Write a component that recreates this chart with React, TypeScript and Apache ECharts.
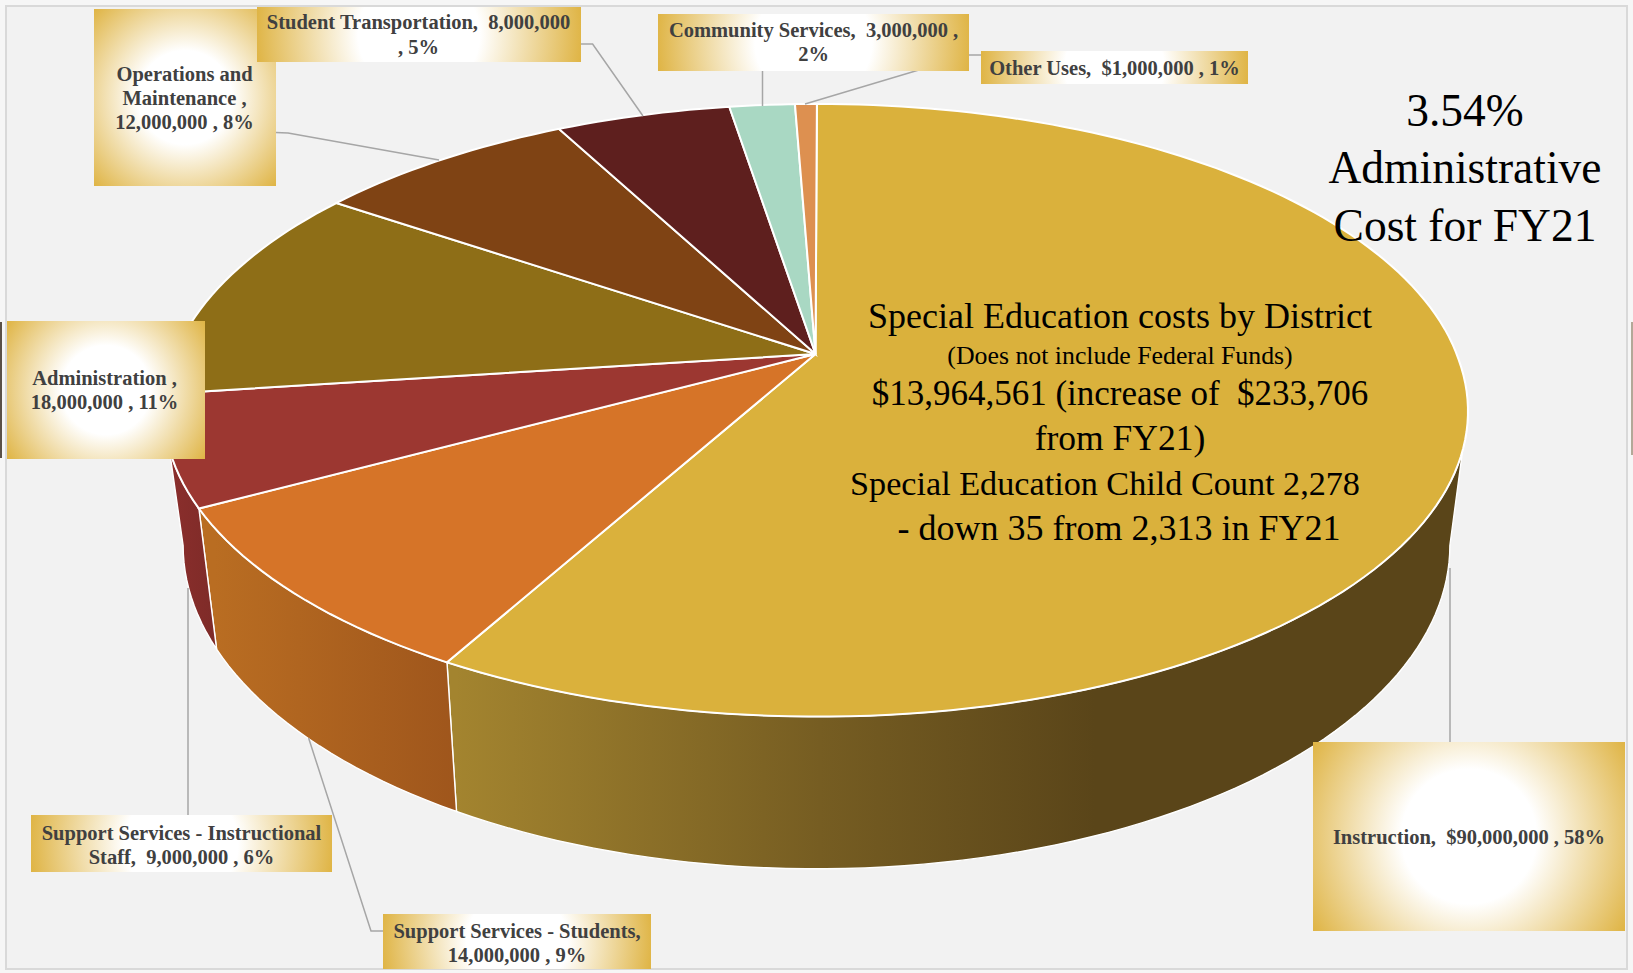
import React, { useEffect, useRef } from "react";
import * as echarts from "echarts";

// Spending by category, clockwise from twelve o'clock.
const categories = [
  "Instruction",
  "Support Services - Students",
  "Support Services - Instructional Staff",
  "Administration",
  "Operations and Maintenance",
  "Student Transportation",
  "Community Services",
  "Other Uses",
];
const amounts = [90000000, 14000000, 9000000, 18000000, 12000000, 8000000, 3000000, 1000000];
const topColors = ["#dab13c", "#d67428", "#9c3731", "#8e6e17", "#7f4314", "#5e1f1e", "#a9d8c3", "#dd9050"];
const wallStops = [
  [["#a3842f", 456], ["#765d22", 820], ["#5a4519", 1095]],
  [["#b96d22", 215], ["#9f561c", 456]],
  [["#8a2e2c", 172], ["#7e2b28", 215]],
];
const labelLines = [
  ["Instruction,  $90,000,000 , 58%"],
  ["Support Services - Students,", "14,000,000 , 9%"],
  ["Support Services - Instructional", "Staff,  9,000,000 , 6%"],
  ["Administration ,", "18,000,000 , 11%"],
  ["Operations and", "Maintenance ,", "12,000,000 , 8%"],
  ["Student Transportation,  8,000,000", ", 5%"],
  ["Community Services,  3,000,000 ,", "2%"],
  ["Other Uses,  $1,000,000 , 1%"],
];
const noteLines = ["3.54%", "Administrative", "Cost for FY21"];
const calloutLines = [
  "Special Education costs by District",
  "(Does not include Federal Funds)",
  "$13,964,561 (increase of  $233,706",
  "from FY21)",
  "Special Education Child Count 2,278",
  "- down 35 from 2,313 in FY21",
];

// Perspective projection of the pie's upper and lower rims.
const TILT = 0.1837;
const WALL_FROM = 100.6;
const WALL_TO = 259.4;
const upper = { x: 815.5, y: 354, a: 641, b: 296, nearSkew: 2, farSkew: 1.4 };
const lower = { x: 816.5, y: 486, a: 622.6, b: 312.5, nearSkew: 0, farSkew: 0 };

const project = (rim: typeof upper, deg: number) => {
  const t = (deg * Math.PI) / 180;
  const X = Math.sin(t);
  const Y = Math.cos(t);
  const w = 1 + TILT * Y;
  const lean = Y > 0 ? rim.farSkew * Math.sqrt(Y) : (-rim.nearSkew * Y) / w;
  return [rim.x + (rim.a * X) / w + lean, rim.y - (rim.b * Y) / w];
};

const arc = (rim: typeof upper, from: number, to: number) => {
  const steps = Math.max(2, Math.ceil(Math.abs(to - from) / 1.5));
  const pts: number[][] = [];
  for (let i = 0; i <= steps; i++) pts.push(project(rim, from + ((to - from) * i) / steps));
  return pts;
};

const total = amounts.reduce((s, v) => s + v, 0);
let running = 0;
const sliceData = amounts.map((v, i) => {
  const start = (running / total) * 360;
  running += v;
  return { name: categories[i], value: [start, (running / total) * 360, i] };
});

const boxes = [
  [1313, 742, 312, 189],
  [383, 914, 268, 55],
  [31, 815, 301, 57],
  [7, 321, 198, 138],
  [94, 9, 182, 177],
  [257, 7, 324, 55],
  [658, 14, 311, 57],
  [981, 51, 267, 33],
];
const labelCenters = [
  [1469, [837]],
  [517, [931, 955]],
  [181.5, [833, 857]],
  [104.5, [378, 402]],
  [184.5, [74, 98, 122]],
  [418.5, [22, 46.5]],
  [813.5, [30, 54]],
  [1114.5, [68]],
] as [number, number[]][];
const leaders = [
  [[1450, 568], [1450, 742]],
  [[308.6, 738], [371, 931], [383, 931]],
  [[188, 588], [188, 815]],
  [[275.6, 132.5], [288, 133], [439, 160]],
  [[580.5, 44], [592.6, 44], [643, 116]],
  [[762.5, 71], [762.5, 106]],
  [[981, 55], [969, 55], [805, 104]],
];
// Later entries paint over earlier ones, so the transportation box sits on the operations box.
const boxOrder = [0, 1, 2, 3, 4, 5, 7, 6];

const SERIF = "'Liberation Serif', serif";

const boxFill = (b: number[]) => {
  const cx = b[0] + b[2] / 2;
  const cy = b[1] + b[3] / 2;
  return {
    type: "radial",
    x: cx,
    y: cy,
    r: Math.hypot(b[2], b[3]) / 2,
    global: true,
    colorStops: [
      { offset: 0, color: "#ffffff" },
      { offset: 0.37, color: "#ffffff" },
      { offset: 1, color: "#dfb444" },
    ],
  };
};

const renderWall = (_: unknown, api: any) => {
  const i = api.value(2);
  const start = Math.max(api.value(0), WALL_FROM);
  const end = Math.min(api.value(1), WALL_TO);
  if (end <= start || !wallStops[i]) return null;
  const stops = wallStops[i] as [string, number][];
  const x0 = stops[0][1];
  const x1 = stops[stops.length - 1][1];
  return {
    type: "polygon",
    shape: { points: [...arc(upper, start, end), ...arc(lower, end, start)] },
    style: {
      fill: {
        type: "linear",
        x: x0,
        y: 0,
        x2: x1,
        y2: 0,
        global: true,
        colorStops: stops.map(([color, x]) => ({ offset: (x - x0) / (x1 - x0), color })),
      },
      stroke: "#ffffff",
      lineWidth: 1.4,
    },
  };
};

const renderTop = (_: unknown, api: any) => {
  const i = api.value(2);
  return {
    type: "polygon",
    shape: { points: [[upper.x, upper.y], ...arc(upper, api.value(0), api.value(1))] },
    style: { fill: topColors[i], stroke: "#ffffff", lineWidth: 2 },
  };
};

const textEl = (text: string, x: number, y: number, size: number, fill: string, weight: string) => ({
  type: "text",
  z: 20,
  x,
  y,
  style: {
    text,
    fill,
    fontFamily: SERIF,
    fontSize: size,
    fontWeight: weight,
    textAlign: "center",
    textVerticalAlign: "middle",
  },
});

const NOTE_Y = [110, 167, 225];
const CALLOUT_X = [1120, 1120, 1120, 1120, 1105, 1119];
const CALLOUT_Y = [316, 355, 393, 438, 483, 528];
const CALLOUT_SIZE = [36, 25.8, 35, 35.5, 34.2, 36];

const graphics: any[] = [
  { type: "rect", z: 0, shape: { x: 6, y: 6, width: 1621, height: 963 }, style: { fill: "#f2f2f2", stroke: "#d9d9d9", lineWidth: 2 } },
  { type: "rect", z: 0, shape: { x: 0, y: 322, width: 2, height: 136 }, style: { fill: "#5a5048" } },
  { type: "rect", z: 0, shape: { x: 1631, y: 322, width: 2, height: 133 }, style: { fill: "#b3a898" } },
  ...leaders.map((points) => ({
    type: "polyline",
    z: 5,
    shape: { points },
    style: { stroke: "#a6a6a6", lineWidth: 1.5, fill: "none" },
  })),
  ...boxOrder.map((i, n) => ({
    type: "rect",
    z: 6 + n,
    shape: { x: boxes[i][0], y: boxes[i][1], width: boxes[i][2], height: boxes[i][3] },
    style: { fill: boxFill(boxes[i]) },
  })),
  ...labelLines.flatMap((lines, i) =>
    lines.map((line, j) => textEl(line, labelCenters[i][0], labelCenters[i][1][j], 20.5, "#404040", "bold"))
  ),
  ...noteLines.map((line, i) => textEl(line, 1465, NOTE_Y[i], 45.5, "#000000", "normal")),
  ...calloutLines.map((line, i) => textEl(line, CALLOUT_X[i], CALLOUT_Y[i], CALLOUT_SIZE[i], "#000000", "normal")),
];

export default function App() {
  const ref = useRef<HTMLDivElement>(null);
  useEffect(() => {
    const chart = echarts.init(ref.current!, null, { renderer: "svg" });
    chart.setOption({
      animation: false,
      backgroundColor: "#f6f6f6",
      graphic: { elements: graphics },
      series: [
        { type: "custom", coordinateSystem: "none", z: 2, silent: true, renderItem: renderWall, data: sliceData },
        { type: "custom", coordinateSystem: "none", z: 3, silent: true, renderItem: renderTop, data: sliceData },
      ],
    });
    return () => chart.dispose();
  }, []);
  return <div ref={ref} style={{ position: "fixed", left: 0, top: 0, width: 1633, height: 973 }} />;
}
